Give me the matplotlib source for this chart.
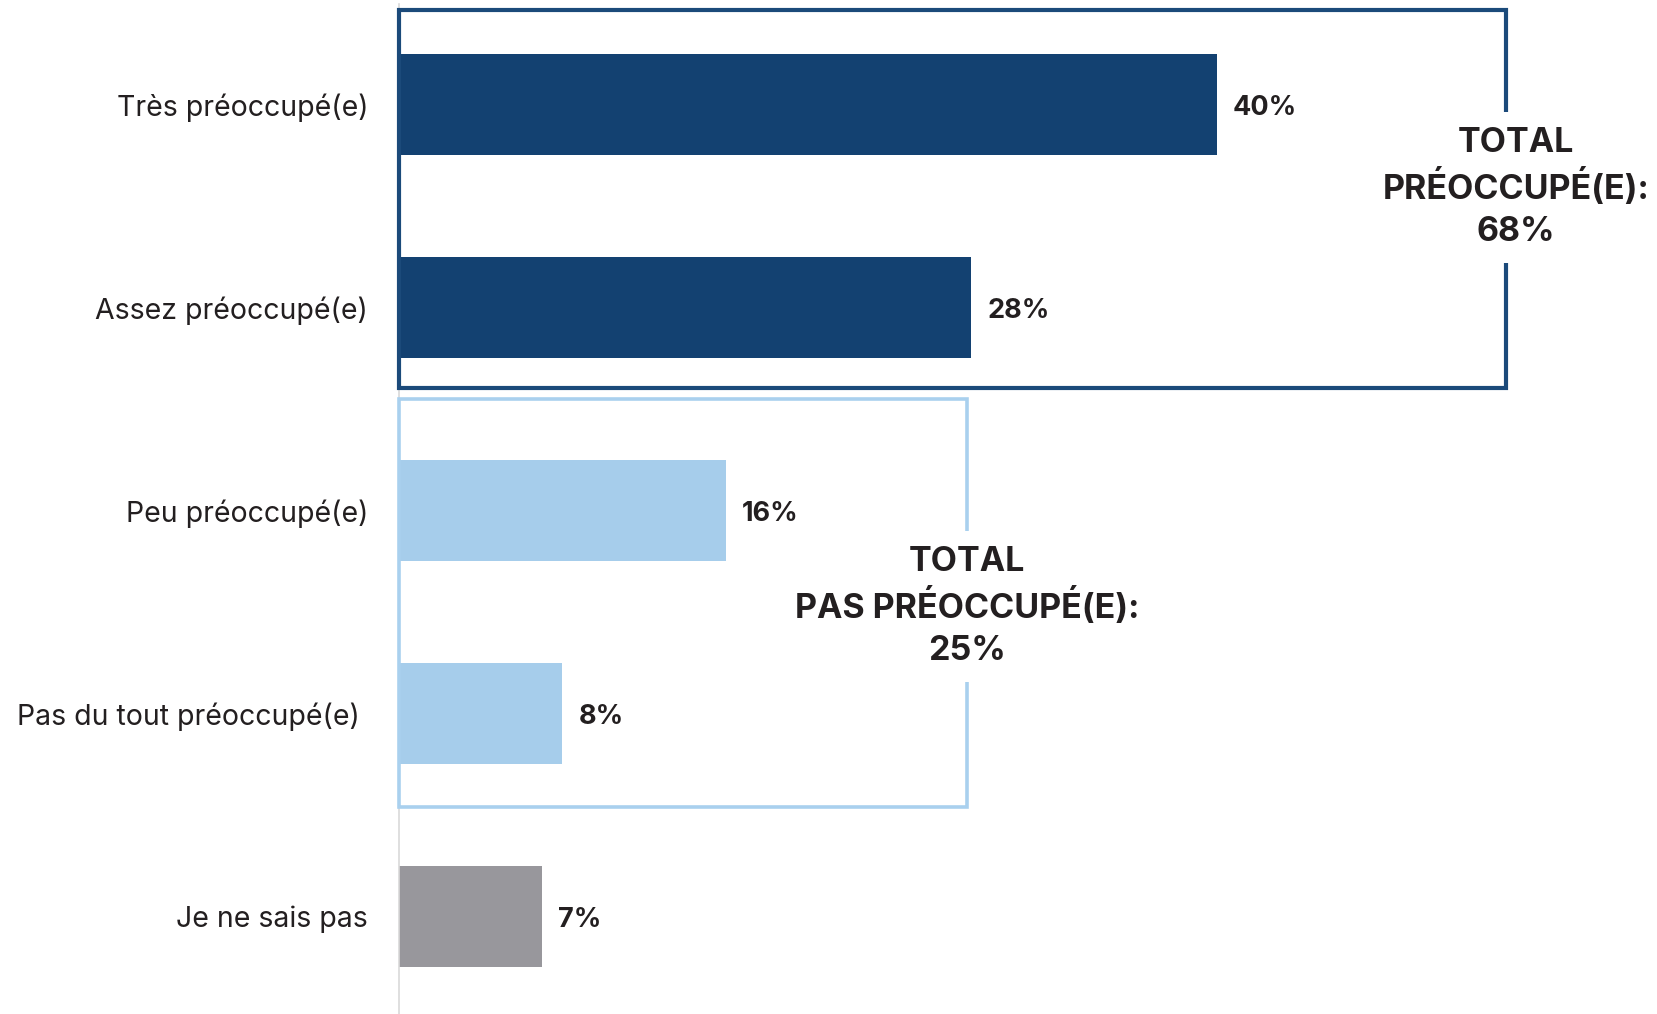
import matplotlib
matplotlib.use("Agg")
import matplotlib.pyplot as plt
from matplotlib.patches import Rectangle

categories = ["Très préoccupé(e)", "Assez préoccupé(e)", "Peu préoccupé(e)",
              "Pas du tout préoccupé(e) ", "Je ne sais pas"]
values = [40, 28, 16, 8, 7]
bar_colors = ["#134171", "#134171", "#A6CDEB", "#A6CDEB", "#98979C"]
total_lines = [["TOTAL", "PRÉOCCUPÉ(E):", "68%"],
               ["TOTAL", "PAS PRÉOCCUPÉ(E):", "25%"]]

plt.rcParams['font.family'] = ['Inter', 'DejaVu Sans']
text_color = "#231F20"

fig = plt.figure(figsize=(16.58, 10.14), dpi=100)
ax = fig.add_axes([398.6 / 1658, 0, (1658 - 398.6) / 1658, 1010 / 1014])

y = list(range(len(categories)))
ax.barh(y, values, height=0.5, color=bar_colors, zorder=2)
for yi, v in zip(y, values):
    ax.text(v + 0.8, yi + 0.015, f"{v}%", va="center", ha="left", fontsize=19.5,
            fontweight="bold", color=text_color)

ax.set_xlim(0, 61.58)
ax.set_ylim(4.48, -0.496)
ax.set_yticks(y)
ax.set_yticklabels(categories, fontsize=20.5, color=text_color)
ax.tick_params(axis="y", length=0, pad=22)
ax.set_xticks([])
for s in ["top", "right", "bottom"]:
    ax.spines[s].set_visible(False)
ax.spines["left"].set_color("#D9D9D9")
ax.spines["left"].set_linewidth(1.2)

# group boxes
ax.add_patch(Rectangle((0, -0.464), 54.15, 1.859, fill=False,
                       edgecolor="#1B4A7A", linewidth=3, zorder=3, clip_on=False))
ax.add_patch(Rectangle((0, 1.45), 27.8, 2.01, fill=False,
                       edgecolor="#A9D0EE", linewidth=2.6, zorder=3, clip_on=False))

# total labels, one line at a time, white boxes cut the frame line
centers = [(54.65, 0.39), (27.8, 2.455)]
step = 0.218
for (cx, cy), lines in zip(centers, total_lines):
    for k, line in enumerate(lines):
        ax.text(cx, cy + (k - 1) * step, line, ha="center", va="center_baseline",
                fontsize=24.5, fontweight="bold", color=text_color, zorder=4,
                bbox=dict(facecolor="white", edgecolor="none", pad=11))

fig.savefig("out.png", dpi=100)
